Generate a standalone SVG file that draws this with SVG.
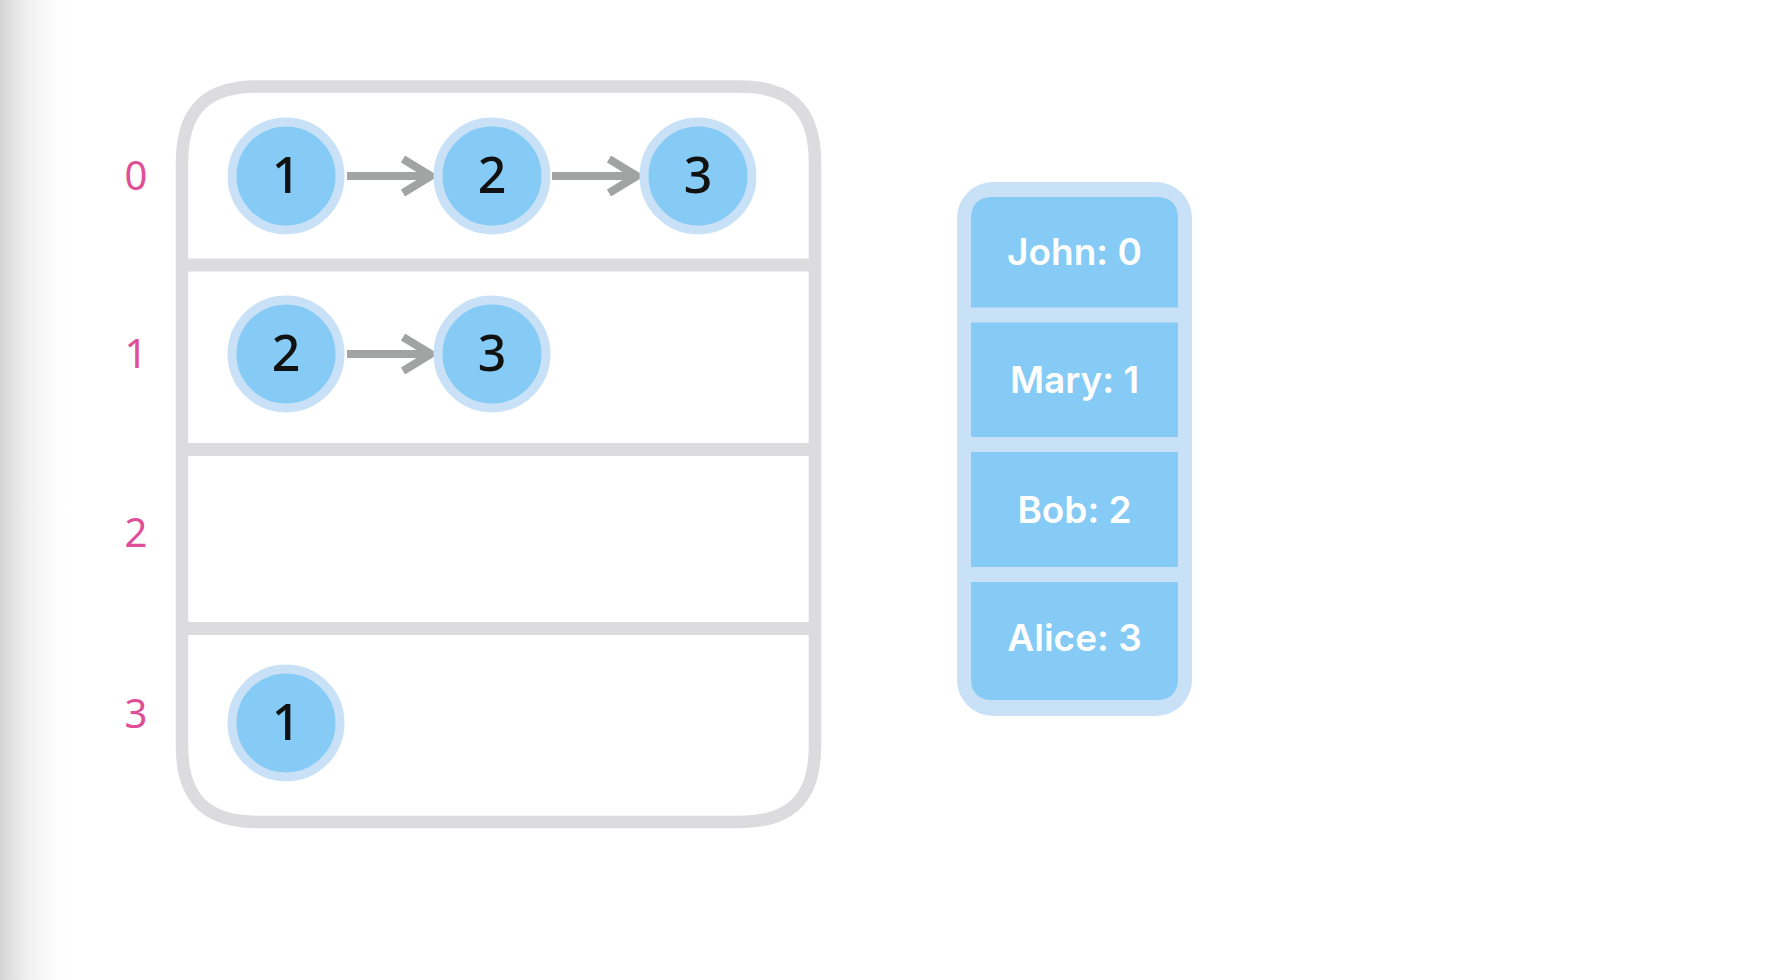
<svg xmlns="http://www.w3.org/2000/svg" width="1778" height="980" viewBox="0 0 1778 980">
<defs>
<linearGradient id="shade" x1="0" y1="0" x2="1" y2="0">
<stop offset="0" stop-color="#d4d4d4"/>
<stop offset="0.3" stop-color="#ececec"/>
<stop offset="1" stop-color="#ffffff" stop-opacity="0"/>
</linearGradient>
<marker id="chev" viewBox="0 0 40 40" refX="34" refY="20" markerWidth="40" markerHeight="40" markerUnits="userSpaceOnUse" orient="auto">
<polyline points="6,3 34,20 6,37" fill="none" stroke="#a2a3a3" stroke-width="8" stroke-linecap="butt" stroke-linejoin="miter"/>
</marker>
<style>
.frame{fill:none;stroke:#dcdcde;stroke-width:12.5}
.div{fill:#dcdcde}
.ring{fill:#85cbf5;stroke:#c8e1f7;stroke-width:9}
.num{font-family:"Noto Sans",Lato,sans-serif;font-weight:500;font-size:50px;fill:#111;text-anchor:middle}
.idx{font-family:"Noto Sans",Lato,sans-serif;font-size:40px;fill:#df4f98;text-anchor:middle}
.arr{stroke:#a2a3a3;stroke-width:8;fill:none;marker-end:url(#chev)}
.cell{fill:#85cbf5}
.lbl{font-family:Inter,"Noto Sans",sans-serif;font-weight:600;font-size:37px;fill:#ffffff;text-anchor:middle}
</style>
</defs>
<rect x="0" y="0" width="1778" height="980" fill="#ffffff"/>
<rect x="0" y="0" width="75" height="980" fill="url(#shade)"/>

<g id="table">
<path class="frame" d="M258,86.5 H739 C785,86.5 815,104 815,162.5 V746 C815,804 785,822 739,822 H258 C212,822 182,804 182,746 V162.5 C182,104 212,86.5 258,86.5 Z"/>
<rect class="div" x="188" y="258.5" width="622" height="13"/>
<rect class="div" x="188" y="443" width="622" height="13"/>
<rect class="div" x="188" y="622" width="622" height="13"/>
</g>

<g id="row-labels">
<text class="idx" x="136" y="190">0</text>
<text class="idx" x="136" y="368">1</text>
<text class="idx" x="136" y="547">2</text>
<text class="idx" x="136" y="728">3</text>
</g>

<g id="connectors">
<line class="arr" x1="347" y1="176" x2="431" y2="176"/>
<line class="arr" x1="552" y1="176" x2="637" y2="176"/>
<line class="arr" x1="347" y1="354" x2="431" y2="354"/>
</g>

<g id="n0-1"><circle class="ring" cx="286" cy="176" r="54"/><text class="num" x="286" y="193">1</text></g>
<g id="n0-2"><circle class="ring" cx="492" cy="176" r="54"/><text class="num" x="492" y="193">2</text></g>
<g id="n0-3"><circle class="ring" cx="698" cy="176" r="54"/><text class="num" x="698" y="193">3</text></g>
<g id="n1-2"><circle class="ring" cx="286" cy="354" r="54"/><text class="num" x="286" y="371">2</text></g>
<g id="n1-3"><circle class="ring" cx="492" cy="354" r="54"/><text class="num" x="492" y="371">3</text></g>
<g id="n3-1"><circle class="ring" cx="286" cy="723" r="54"/><text class="num" x="286" y="740">1</text></g>

<g id="map">
<rect x="957" y="182" width="235" height="534" rx="36" ry="36" fill="#c8e1f7"/>
<g id="cell-john"><path class="cell" d="M971,307.5 V219 Q971,197 993,197 H1156 Q1178,197 1178,219 V307.5 Z"/><text class="lbl" x="1074.5" y="265">John: 0</text></g>
<g id="cell-mary"><rect class="cell" x="971" y="322.5" width="207" height="114.5"/><text class="lbl" x="1074.5" y="393">Mary: 1</text></g>
<g id="cell-bob"><rect class="cell" x="971" y="452" width="207" height="115"/><text class="lbl" x="1074.5" y="523">Bob: 2</text></g>
<g id="cell-alice"><path class="cell" d="M971,582 V678 Q971,700 993,700 H1156 Q1178,700 1178,678 V582 Z"/><text class="lbl" x="1074.5" y="651">Alice: 3</text></g>
</g>
</svg>
